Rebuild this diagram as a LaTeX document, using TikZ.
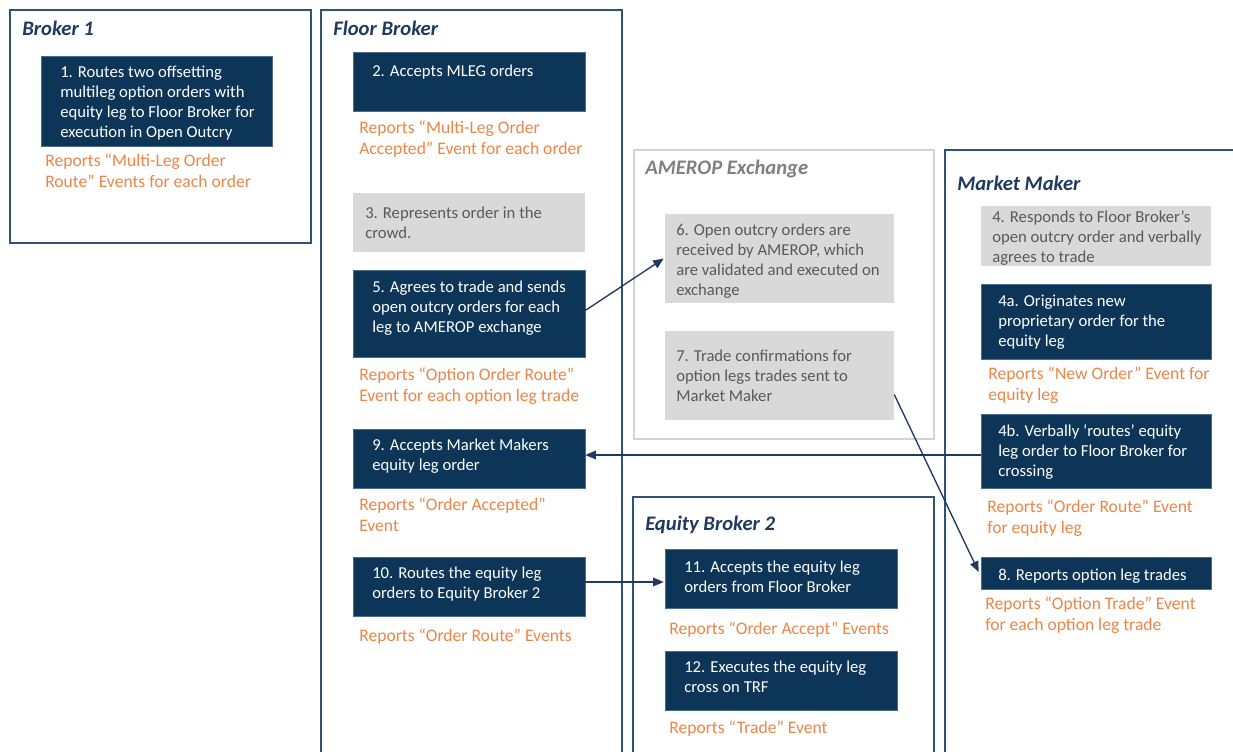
\documentclass[tikz,border=0pt]{standalone}
\usepackage{fontspec}
\setmainfont{Carlito}
\usetikzlibrary{fit,calc,arrows.meta}
\definecolor{navy}{HTML}{0C3558}
\definecolor{navyedge}{HTML}{4A6C8E}
\definecolor{frameblue}{HTML}{2F5378}
\definecolor{titleblue}{HTML}{1F3A5F}
\definecolor{orng}{HTML}{EC8646}
\definecolor{gbox}{HTML}{D9D9D9}
\definecolor{gtext}{HTML}{595959}
\definecolor{gframe}{HTML}{D3D3D3}
\definecolor{gtitle}{HTML}{808080}
\definecolor{arrowc}{HTML}{1F3864}
\tikzset{
  darkbox/.style={fill=navy, draw=navyedge, line width=0.4pt, inner sep=0pt},
  graybox/.style={fill=gbox, draw=none, inner sep=0pt},
  txt/.style={anchor=north west, inner sep=0pt, align=left, yshift=-3.6pt, font=\fontsize{12.5}{15}\selectfont, execute at begin node=\strut},
  wtxt/.style={txt, text=white},
  gtxt/.style={txt, text=gtext},
  otxt/.style={txt, text=orng, font=\fontsize{13.2}{15.7}\selectfont},
  frame/.style={draw=frameblue, line width=1.5pt},
  gframeS/.style={draw=gframe, line width=1.3pt},
  title/.style={anchor=base west, inner sep=0pt, font=\fontsize{15.5}{18}\selectfont\bfseries\itshape, text=titleblue},
  arr/.style={draw=arrowc, line width=1pt, -{Triangle[length=8pt,width=6.5pt]}}
}
\begin{document}
\begin{tikzpicture}[x=0.75pt,y=-0.75pt]
\useasboundingbox (0,0) rectangle (1233,751);
\clip (0,0) rectangle (1233,751);
\fill[white] (0,0) rectangle (1233,751);

% frames
\draw[frame] (10,10) rectangle (311,243);
\draw[frame] (321,10) rectangle (622,770);
\draw[gframeS] (634,150) rectangle (934,439);
\draw[frame] (633,497) rectangle (934,770);
\draw[frame] (945,150) rectangle (1260,770);

% titles
\node[title] (t1) at (22,35.5) {Broker 1};
\node[title] (t2) at (333,35.5) {Floor Broker};
\node[title, text=gtitle] (t3) at (645,174.5) {AMEROP Exchange};
\node[title] (t4) at (645,530.5) {Equity Broker 2};
\node[title] (t5) at (957,190.5) {Market Maker};

% Broker 1
\node[darkbox, fit={(41,56) (272,146)}] (b1) {};
\node[wtxt] at (60,60.5) {1. Routes two offsetting\\multileg option orders with\\equity leg to Floor Broker for\\execution in Open Outcry};
\node[otxt] at (45,148.5) {Reports “Multi-Leg Order\\Route” Events for each order};

% Floor Broker
\node[darkbox, fit={(353,52) (585,111)}] (b2) {};
\node[wtxt] at (372,57.5) {2. Accepts MLEG orders};
\node[otxt] at (359,115.5) {Reports “Multi-Leg Order\\Accepted” Event for each order};

\node[graybox, fit={(353,193) (585,252)}] (b3) {};
\node[gtxt] at (365,201.5) {3. Represents order in the\\crowd.};

\node[darkbox, fit={(353,270) (585,357)}] (b5) {};
\node[wtxt] at (372,275.5) {5. Agrees to trade and sends\\open outcry orders for each\\leg to AMEROP exchange};
\node[otxt] at (359,362.5) {Reports “Option Order Route”\\Event for each option leg trade};

\node[darkbox, fit={(353,429) (585,488)}] (b9) {};
\node[wtxt] at (372,433.5) {9. Accepts Market Makers\\equity leg order};
\node[otxt] at (359,492.5) {Reports “Order Accepted”\\Event};

\node[darkbox, fit={(353,557) (585,616)}] (b10) {};
\node[wtxt] at (372,561.5) {10. Routes the equity leg\\orders to Equity Broker 2};
\node[otxt] at (359,621.5) {Reports “Order Route” Events};

% AMEROP
\node[graybox, fit={(665,214) (894,303)}] (b6) {};
\node[gtxt] at (676,218.5) {6. Open outcry orders are\\received by AMEROP, which\\are validated and executed on\\exchange};
\node[graybox, fit={(665,331) (894,420)}] (b7) {};
\node[gtxt] at (676,344.5) {7. Trade confirmations for\\option legs trades sent to\\Market Maker};

% Equity Broker 2
\node[darkbox, fit={(665,549) (897,608)}] (b11) {};
\node[wtxt] at (684,555.5) {11. Accepts the equity leg\\orders from Floor Broker};
\node[otxt] at (669,614.5) {Reports “Order Accept” Events};
\node[darkbox, fit={(665,651) (897,710)}] (b12) {};
\node[wtxt] at (684,655.5) {12. Executes the equity leg\\cross on TRF};
\node[otxt] at (669,713.5) {Reports “Trade” Event};

% Market Maker
\node[graybox, fit={(981,206) (1211,266)}] (b4) {};
\node[gtxt] at (992,205.5) {4. Responds to Floor Broker’s\\open outcry order and verbally\\agrees to trade};
\node[darkbox, fit={(981,284) (1211,359)}] (b4a) {};
\node[wtxt] at (998,289.5) {4a. Originates new\\proprietary order for the\\equity leg};
\node[otxt] at (988,361.5) {Reports “New Order” Event for\\equity leg};
\node[darkbox, fit={(981,414) (1211,488)}] (b4b) {};
\node[wtxt] at (998,419.5) {4b. Verbally ‘routes’ equity\\leg order to Floor Broker for\\crossing};
\node[otxt] at (987,494.5) {Reports “Order Route” Event\\for equity leg};
\node[darkbox, fit={(981,557) (1211,589)}] (b8) {};
\node[wtxt] at (998,561.5) {8. Reports option leg trades};
\node[otxt] at (985,591.5) {Reports “Option Trade” Event\\for each option leg trade};

% connectors
\draw[arr] ($(b5.east)+(0,-3)$) -- ($(b6.west)+(-1,0)$);
\draw[arr] ($(b4b.west)+(0,4)$) -- ($(b9.east)+(0,-3.5)$);
\draw[arr] ($(b10.east)+(0,-4.5)$) -- ($(b11.west)+(-1,3.5)$);
\draw[arr] ($(b7.east)+(0,19)$) -- ($(b8.west)+(-2,-1)$);
\end{tikzpicture}
\end{document}
